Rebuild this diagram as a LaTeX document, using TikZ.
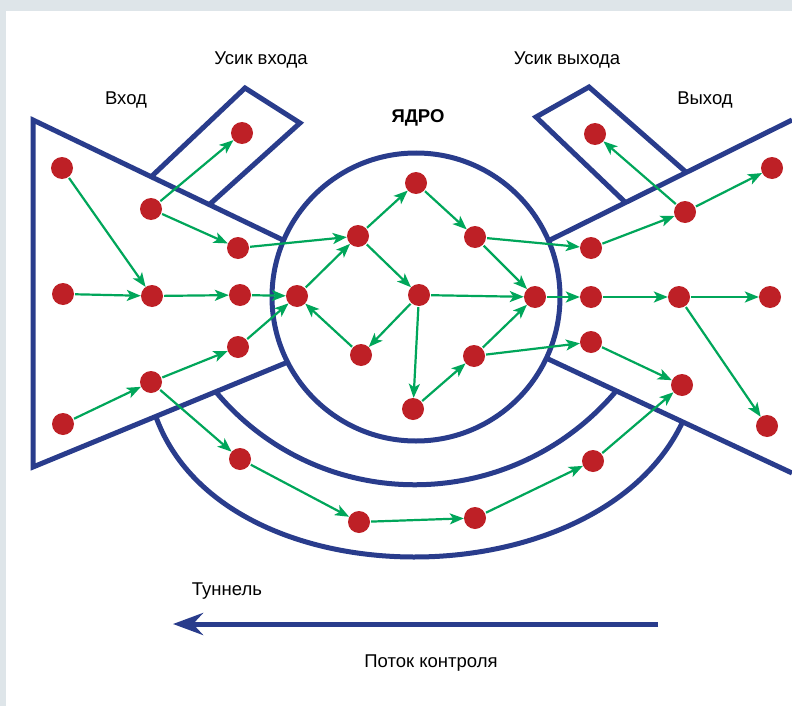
\documentclass[tikz,border=0pt]{standalone}
\usepackage{fontspec}
\setmainfont{Liberation Sans}
\usetikzlibrary{arrows.meta}
\definecolor{wallblue}{RGB}{41,60,140}
\definecolor{dotred}{RGB}{190,32,38}
\definecolor{flowgreen}{RGB}{0,166,90}
\definecolor{framegray}{RGB}{222,229,233}
\tikzset{
  >=latex,
  dot/.style={circle,fill=dotred,minimum size=22pt,inner sep=0pt},
  flow/.style={draw=flowgreen,line width=2.2pt,shorten <=1pt,
    -{Stealth[length=14pt,width=11pt,inset=3.5pt]}},
  wall/.style={draw=wallblue,line width=5pt,line join=miter},
  lbl/.style={font=\fontsize{18.5}{22}\selectfont},
}

\begin{document}
\begin{tikzpicture}[x=1pt,y=-1pt]
    \useasboundingbox (0,0) rectangle (792,706);
    \fill[white] (0,0) rectangle (792,706);
    \fill[framegray] (0,0) rectangle (792,11);
    \fill[framegray] (0,0) rectangle (6,706);
    % walls
    \begin{scope}[wall]
      \draw (283,240) -- (33,120) -- (33,467) -- (288,362);
      \draw (152,176) -- (245,88) -- (300,123) -- (210,204);
      \draw (416,297) circle[radius=144];
      \draw (792,120) -- (548,241);
      \draw (626,203) -- (536,117) -- (589,87) -- (687,173);
      \draw (546,358) -- (792,473);
      \draw (216,392) .. controls (321,517) and (512,515) .. (617,390);
      \draw (156,417) .. controls (224,604) and (599,602) .. (683,421);
    \end{scope}
    % labels
    \node[lbl] (vhod) at (126,100) {Вход};
    \node[lbl] (usikin) at (261,60) {Усик входа};
    \node[lbl,font=\fontsize{18.5}{22}\selectfont\bfseries] (yadro) at (418,118) {ЯДРО};
    \node[lbl] (usikout) at (567,60) {Усик выхода};
    \node[lbl] (vyhod) at (705,100) {Выход};
    \node[lbl] (tunnel) at (227,591) {Туннель};
    \node[lbl] (potok) at (431,663) {Поток контроля};
    % control flow arrow
    \coordinate (flowstart) at (658,624);
    \coordinate (flowend) at (173,624);
    \draw[draw=wallblue,line width=5pt,-{Stealth[length=30pt,width=22pt,inset=10pt]}]
      (flowstart) -- (flowend);
    % input
    \node[dot] (in1) at (62,168) {};
    \node[dot] (in2) at (151,209) {};
    \node[dot] (in3) at (242,133) {};
    \node[dot] (in4) at (238,248) {};
    \node[dot] (in5) at (63,294) {};
    \node[dot] (in6) at (152,296) {};
    \node[dot] (in7) at (240,295) {};
    \node[dot] (in8) at (238,347) {};
    \node[dot] (in9) at (151,382) {};
    \node[dot] (in10) at (63,424) {};
    % core
    \node[dot] (k1) at (297,296) {};
    \node[dot] (k2) at (358,236) {};
    \node[dot] (k3) at (416,183) {};
    \node[dot] (k4) at (475,237) {};
    \node[dot] (k5) at (419,295) {};
    \node[dot] (k6) at (361,355) {};
    \node[dot] (k7) at (474,356) {};
    \node[dot] (k8) at (413,409) {};
    \node[dot] (k9) at (535,297) {};
    % output
    \node[dot] (out1) at (591,248) {};
    \node[dot] (out2) at (595,134) {};
    \node[dot] (out3) at (685,212) {};
    \node[dot] (out4) at (772,168) {};
    \node[dot] (out5) at (591,297) {};
    \node[dot] (out6) at (679,297) {};
    \node[dot] (out7) at (770,297) {};
    \node[dot] (out8) at (591,342) {};
    \node[dot] (out9) at (682,385) {};
    \node[dot] (out10) at (767,426) {};
    % tunnel
    \node[dot] (t1) at (240,459) {};
    \node[dot] (t2) at (359,522) {};
    \node[dot] (t3) at (475,518) {};
    \node[dot] (t4) at (593,461) {};
    % edges
    \begin{scope}[flow]
      \draw (in1) -- (in6);
      \draw (in2) -- (in3);
      \draw (in2) -- (in4);
      \draw (in4) -- (k2);
      \draw (in5) -- (in6);
      \draw (in6) -- (in7);
      \draw (in7) -- (k1);
      \draw (in8) -- (k1);
      \draw (in10) -- (in9);
      \draw (in9) -- (in8);
      \draw (in9) -- (t1);
      \draw (k1) -- (k2);
      \draw (k2) -- (k3);
      \draw (k3) -- (k4);
      \draw (k2) -- (k5);
      \draw (k5) -- (k6);
      \draw (k6) -- (k1);
      \draw (k5) -- (k9);
      \draw (k5) -- (k8);
      \draw (k8) -- (k7);
      \draw (k7) -- (k9);
      \draw (k4) -- (k9);
      \draw (k4) -- (out1);
      \draw (k7) -- (out8);
      \draw (k9) -- (out5);
      \draw (out1) -- (out3);
      \draw (out3) -- (out2);
      \draw (out3) -- (out4);
      \draw (out5) -- (out6);
      \draw (out6) -- (out7);
      \draw (out6) -- (out10);
      \draw (out8) -- (out9);
      \draw (t1) -- (t2);
      \draw (t2) -- (t3);
      \draw (t3) -- (t4);
      \draw (t4) -- (out9);
    \end{scope}
\end{tikzpicture}
\end{document}
